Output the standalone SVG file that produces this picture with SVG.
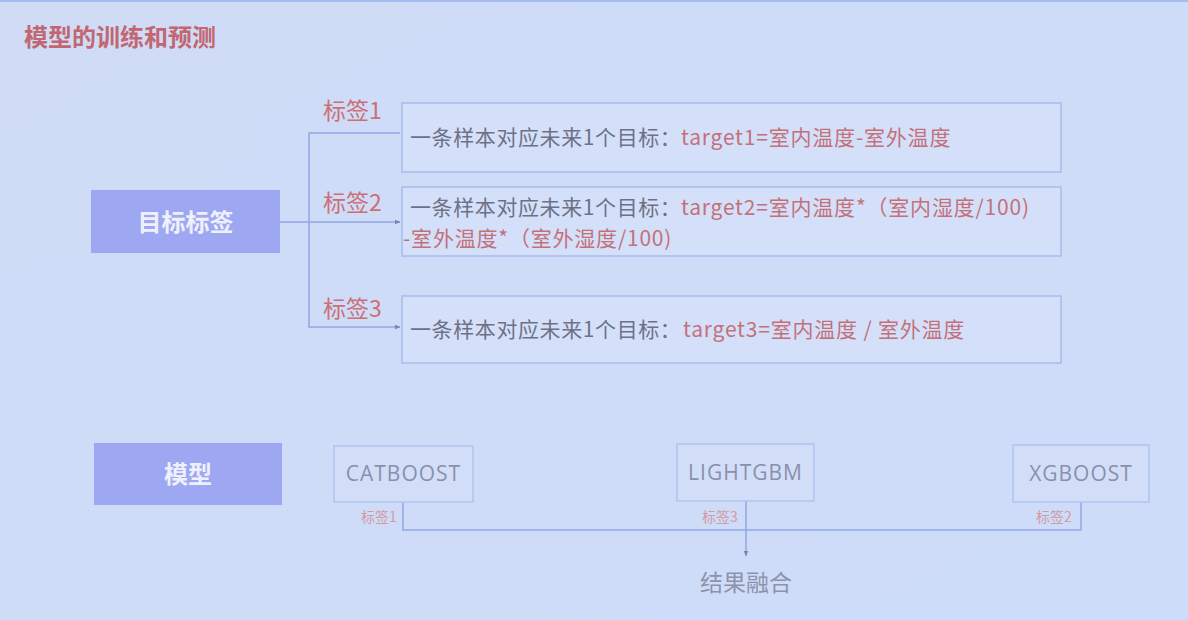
<svg xmlns="http://www.w3.org/2000/svg" width="1188" height="620" viewBox="0 0 1188 620">
<defs>
<marker id="arr" viewBox="0 0 10 10" refX="9" refY="5" markerWidth="6" markerHeight="6" orient="auto" markerUnits="userSpaceOnUse">
<path d="M0,1 L10,5 L0,9 z" fill="#7c86a8"/>
</marker>
<linearGradient id="bg" x1="0" y1="0" x2="1" y2="1">
<stop offset="0" stop-color="#d0dcf6"/>
<stop offset="1" stop-color="#cddcf9"/>
</linearGradient>
</defs>
<style>
.cjk{font-family:"Noto Sans CJK SC","Noto Sans",sans-serif}
.title{font-size:24px;font-weight:bold;fill:#c26672}
.hdr{fill:#9ea8f2}
.hdrt{font-size:24px;font-weight:bold;fill:#eef0fc;text-anchor:middle}
.box{fill:#d4e0f9;stroke:#a9bbee;stroke-width:1.5}
.lbl{font-size:23px;fill:#cd6f78}
.gray{font-size:21px;fill:#6d7186;letter-spacing:0.6px}
.red{font-size:21px;fill:#c4707a;letter-spacing:0.8px}
.mbox{fill:#d2def8;stroke:#b3c3ef;stroke-width:1.5}
.mt{font-family:"Open Sans","Noto Sans",sans-serif;font-size:21px;fill:#8990aa;text-anchor:middle;letter-spacing:1px}
.sl{font-size:14px;fill:#d49aa6}
.res{font-size:23px;fill:#8d93aa}
.ln{fill:none;stroke:#93a6e6;stroke-width:1.5}
</style>
<rect width="1188" height="620" fill="url(#bg)"/>
<rect width="1188" height="2" fill="#a7bdf0"/>
<text class="cjk title" x="24" y="46">模型的训练和预测</text>

<g id="connectors">
<path class="ln" d="M280,222 L400,222" marker-end="url(#arr)"/>
<path class="ln" d="M400,133 L309,133 L309,327 L400,327" marker-end="url(#arr)"/>
<path class="ln" d="M403,502 L403,530 L1081,530 L1081,502"/>
<path class="ln" d="M746,501 L746,556" marker-end="url(#arr)"/>
</g>

<g id="target-label">
<rect class="hdr" x="91" y="190" width="189" height="63"/>
<text class="cjk hdrt" x="185.5" y="231">目标标签</text>
</g>

<g id="label1">
<text class="cjk lbl" x="323" y="119">标签1</text>
<rect class="box" x="402" y="103" width="659" height="69"/>
<text class="cjk gray" x="410" y="145">一条样本对应未来1个目标：</text>
<text class="cjk red" x="681" y="145">target1=室内温度-室外温度</text>
</g>

<g id="label2">
<text class="cjk lbl" x="323" y="211">标签2</text>
<rect class="box" x="402" y="187" width="659" height="69"/>
<text class="cjk gray" x="410" y="215">一条样本对应未来1个目标：</text>
<text class="cjk red" x="681" y="215">target2=室内温度*（室内湿度/100)</text>
<text class="cjk red" x="403" y="246">-室外温度*（室外湿度/100)</text>
</g>

<g id="label3">
<text class="cjk lbl" x="323" y="317">标签3</text>
<rect class="box" x="402" y="296" width="659" height="67"/>
<text class="cjk gray" x="410" y="337">一条样本对应未来1个目标：</text>
<text class="cjk red" x="683" y="337">target3=室内温度 / 室外温度</text>
</g>

<g id="model">
<rect class="hdr" x="94" y="443" width="188" height="62"/>
<text class="cjk hdrt" x="188" y="483">模型</text>
</g>

<g id="catboost">
<rect class="mbox" x="334" y="446" width="139" height="56"/>
<text class="mt" x="403.5" y="481">CATBOOST</text>
<text class="cjk sl" x="361" y="522">标签1</text>
</g>

<g id="lightgbm">
<rect class="mbox" x="677" y="444" width="137" height="57"/>
<text class="mt" x="745.5" y="480">LIGHTGBM</text>
<text class="cjk sl" x="702" y="522">标签3</text>
</g>

<g id="xgboost">
<rect class="mbox" x="1013" y="445" width="136" height="57"/>
<text class="mt" x="1081" y="481">XGBOOST</text>
<text class="cjk sl" x="1036" y="522">标签2</text>
</g>

<g id="fusion">
<text class="cjk res" x="700" y="591">结果融合</text>
</g>
</svg>
